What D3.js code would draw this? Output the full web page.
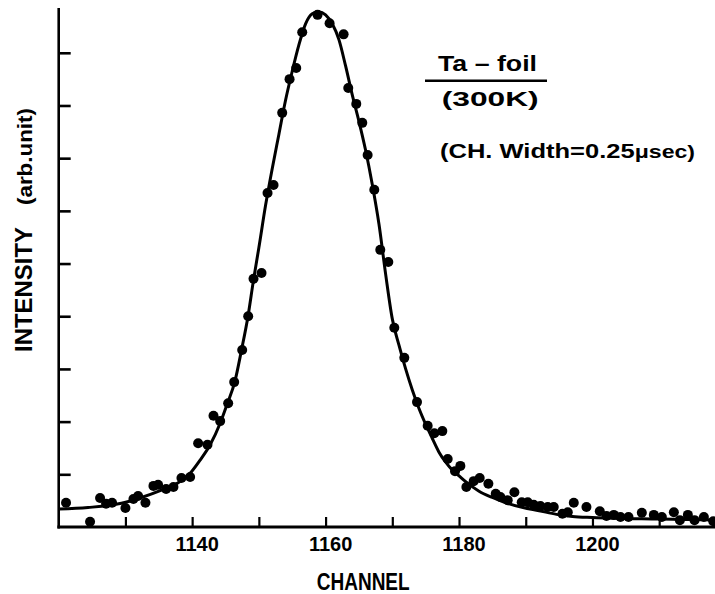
<!DOCTYPE html>
<html>
<head>
<meta charset="utf-8">
<script src="https://cdn.jsdelivr.net/npm/d3@7"></script>
<style>
  html, body { margin: 0; padding: 0; background: #fff; }
  svg { display: block; }
  text { font-family: "Liberation Sans", Arial, sans-serif; font-weight: bold; fill: #000; }
</style>
</head>
<body>
<svg id="chart" width="715" height="594"></svg>
<script>
// ---- data ----
const pointChannels = [
  1121.1, 1124.7, 1126.2, 1127.1, 1128.0, 1130.0, 1131.2, 1131.9, 1133.0, 1134.2,
  1134.9, 1136.1, 1137.2, 1138.4, 1139.7, 1140.9, 1142.3, 1143.2, 1144.2, 1145.4,
  1146.3, 1147.5, 1148.4, 1149.2, 1150.4, 1151.3, 1152.2, 1153.5, 1154.6, 1155.6,
  1156.5, 1158.8, 1160.6, 1162.7, 1163.4, 1164.6, 1165.5, 1166.3, 1167.3, 1168.2,
  1169.4, 1170.3, 1171.8, 1173.7, 1175.3, 1176.3, 1177.5, 1178.3, 1179.4, 1180.2,
  1181.1, 1182.2, 1183.1, 1184.4, 1185.5, 1186.2, 1187.3, 1188.3, 1189.4, 1190.3,
  1191.2, 1192.2, 1193.3, 1194.2, 1195.5, 1196.3, 1197.2, 1199.1, 1201.1, 1202.1,
  1203.2, 1204.2, 1205.4, 1207.4, 1209.2, 1210.4, 1212.2, 1213.1, 1214.3, 1215.3,
  1216.7, 1218.1
];
const pointIntensity = [
  0.46, 0.10, 0.55, 0.44, 0.46, 0.36, 0.53, 0.59, 0.46, 0.78,
  0.80, 0.72, 0.76, 0.93, 0.95, 1.59, 1.56, 2.11, 2.01, 2.35,
  2.75, 3.36, 4.00, 4.71, 4.82, 6.34, 6.49, 7.86, 8.50, 8.71,
  9.39, 9.72, 9.56, 9.35, 8.33, 8.03, 7.67, 7.06, 6.40, 5.26,
  5.03, 3.78, 3.21, 2.37, 1.92, 1.78, 1.82, 1.29, 1.06, 1.16,
  0.76, 0.87, 0.93, 0.82, 0.63, 0.57, 0.51, 0.66, 0.47, 0.47,
  0.42, 0.40, 0.38, 0.38, 0.25, 0.28, 0.46, 0.38, 0.30, 0.21,
  0.23, 0.19, 0.19, 0.27, 0.23, 0.19, 0.28, 0.13, 0.23, 0.13,
  0.19, 0.11
];
const fitChannels = [
  1120, 1124.4, 1129.4, 1132.4, 1135.4, 1137.9, 1139.9, 1141.2, 1142.7, 1144.2,
  1145.3, 1146.4, 1147.4, 1148.4, 1149.2, 1150, 1151, 1152, 1153, 1154,
  1155, 1156, 1157, 1158, 1159, 1160, 1161, 1162, 1163, 1164,
  1165, 1166, 1167, 1168, 1169, 1170, 1171, 1172, 1173, 1174,
  1175, 1176, 1177, 1178, 1179, 1180, 1181, 1183, 1185, 1187,
  1189.6, 1192, 1194.6, 1197, 1200, 1210, 1220
];
const fitIntensity = [
  0.34, 0.37, 0.45, 0.56, 0.70, 0.84, 1.05, 1.27, 1.56, 1.97,
  2.35, 2.76, 3.36, 4.02, 4.69, 5.30, 6.10, 6.80, 7.45, 8.10,
  8.65, 9.15, 9.55, 9.74, 9.78, 9.72, 9.55, 9.25, 8.75, 8.20,
  7.70, 7.15, 6.50, 5.75, 4.80, 3.95, 3.45, 3.00, 2.60, 2.25,
  1.95, 1.68, 1.42, 1.23, 1.08, 0.97, 0.86, 0.68, 0.56, 0.46,
  0.37, 0.31, 0.24, 0.20, 0.18, 0.15, 0.13
];
const xTickValues = [1130, 1140, 1150, 1160, 1170, 1180, 1190, 1200, 1210];
const xTickLabels = ["1140", "1160", "1180", "1200"];
const yTickValues = [1, 2, 3, 4, 5, 6, 7, 8, 9];
const xAxisTitle = "CHANNEL";
const yAxisTitle = "INTENSITY";
const yAxisUnit = "(arb.unit)";
const sampleName = "Ta – foil";
const sampleTemp = "(300K)";
const widthNoteMain = "(CH. Width=0.25";
const widthNoteUnit = "μsec)";

// ---- drawing ----
const svg = d3.select("#chart");
const x = d3.scaleLinear().domain([1120, 1220]).range([58.7, 725.9]);
const y = d3.scaleLinear().domain([0, 9.85]).range([527, 8]);

const g = svg.append("g");

// fitted curve
const pts = fitChannels.map((c, i) => [c, fitIntensity[i]]);
g.append("path")
  .datum(pts)
  .attr("fill", "none")
  .attr("stroke", "#000")
  .attr("stroke-width", 3)
  .attr("stroke-linejoin", "round")
  .attr("d", d3.line().x(d => x(d[0])).y(d => y(d[1])).curve(d3.curveMonotoneX));

// data points
g.selectAll("circle.pt")
  .data(pointChannels.map((c, i) => [c, pointIntensity[i]]))
  .join("circle")
  .attr("class", "pt")
  .attr("cx", d => x(d[0]))
  .attr("cy", d => y(d[1]))
  .attr("r", 5)
  .attr("fill", "#000");

// x axis (ticks pointing up, labels drawn separately)
const xAxis = d3.axisTop(x).tickValues(xTickValues).tickSize(10).tickFormat("");
const xa = svg.append("g").attr("transform", `translate(0,${y(0)})`).call(xAxis);
xa.select(".domain").remove();
xa.selectAll(".tick line").attr("stroke", "#000").attr("stroke-width", 2.2);
svg.append("line")
  .attr("x1", x(1120) - 1.3).attr("x2", 715)
  .attr("y1", y(0)).attr("y2", y(0))
  .attr("stroke", "#000").attr("stroke-width", 2.8);

// y axis (ticks pointing right, no labels)
const yAxis = d3.axisRight(y).tickValues(yTickValues).tickSize(12).tickFormat("");
const ya = svg.append("g").attr("transform", `translate(${x(1120)},0)`).call(yAxis);
ya.select(".domain").remove();
ya.selectAll(".tick line").attr("stroke", "#000").attr("stroke-width", 2.6);
svg.append("line")
  .attr("x1", x(1120)).attr("x2", x(1120))
  .attr("y1", y(9.85)).attr("y2", y(0) + 1.4)
  .attr("stroke", "#000").attr("stroke-width", 2.6);

// x tick labels
svg.selectAll("text.xlab")
  .data(xTickLabels)
  .join("text")
  .attr("class", "xlab")
  .attr("x", d => x(+d) + 5)
  .attr("y", 551)
  .attr("text-anchor", "middle")
  .attr("font-size", 20)
  .text(d => d);

// axis titles
svg.append("text")
  .attr("x", 316.7).attr("y", 590)
  .attr("font-size", 23)
  .attr("textLength", 93).attr("lengthAdjust", "spacingAndGlyphs")
  .text(xAxisTitle);

svg.append("text")
  .attr("transform", "translate(32,352) rotate(-90)")
  .attr("font-size", 23)
  .attr("textLength", 125).attr("lengthAdjust", "spacingAndGlyphs")
  .text(yAxisTitle);

svg.append("text")
  .attr("transform", "translate(32,205) rotate(-90)")
  .attr("font-size", 20)
  .attr("textLength", 97).attr("lengthAdjust", "spacingAndGlyphs")
  .text(yAxisUnit);

// annotation
svg.append("text")
  .attr("x", 438).attr("y", 70.7)
  .attr("font-size", 22)
  .attr("textLength", 99).attr("lengthAdjust", "spacingAndGlyphs")
  .text(sampleName);
svg.append("line")
  .attr("x1", 425).attr("x2", 547).attr("y1", 80.7).attr("y2", 80.7)
  .attr("stroke", "#000").attr("stroke-width", 2.5);
svg.append("text")
  .attr("x", 441.7).attr("y", 106)
  .attr("font-size", 21)
  .attr("textLength", 97).attr("lengthAdjust", "spacingAndGlyphs")
  .text(sampleTemp);

const note = svg.append("text")
  .attr("x", 440).attr("y", 158.3)
  .attr("font-size", 21)
  .attr("textLength", 255).attr("lengthAdjust", "spacingAndGlyphs");
note.append("tspan").text(widthNoteMain);
note.append("tspan").attr("font-size", 19).text(widthNoteUnit);
</script>
</body>
</html>
